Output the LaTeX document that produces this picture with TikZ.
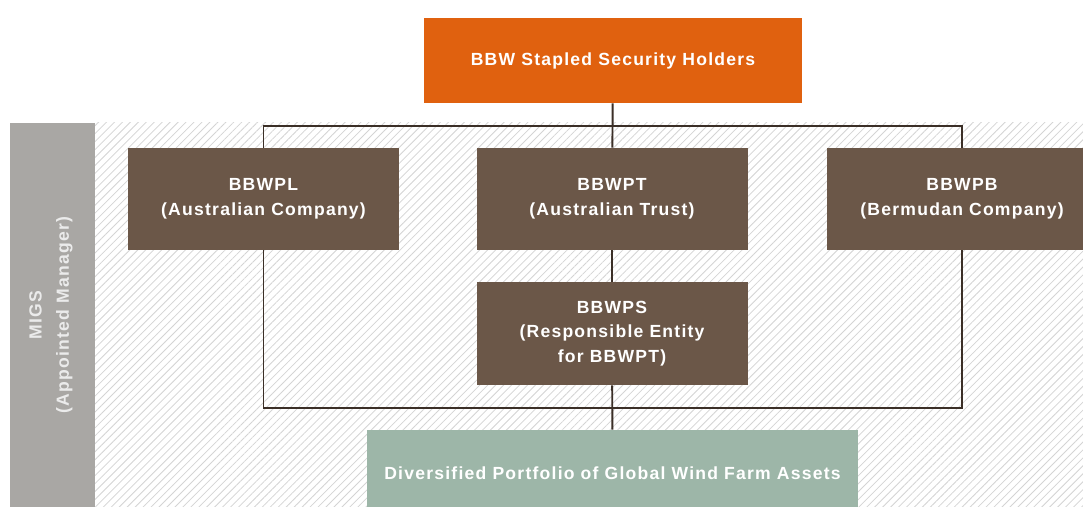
\documentclass[tikz,border=0pt]{standalone}
\usepackage{fontspec}
\setsansfont{Liberation Sans}[LetterSpace=7]
\usetikzlibrary{patterns.meta}

\definecolor{stapleorange}{HTML}{E0610F}
\definecolor{entitybrown}{HTML}{6B5748}
\definecolor{assetgreen}{HTML}{9DB6A8}
\definecolor{bandgray}{HTML}{A9A7A4}
\definecolor{linkbrown}{HTML}{3B2F27}

\begin{document}
\begin{tikzpicture}[
    box/.style={minimum width=5.42cm, minimum height=2.04cm, inner sep=0pt,
                fill=entitybrown, text=white, align=center,
                font=\sffamily\bfseries\fontsize{10}{14}\selectfont},
    link/.style={draw=linkbrown, line width=1.1pt},
    label/.style={text=white!92!black, align=center,
                  font=\sffamily\bfseries\fontsize{10}{15.5}\selectfont}
  ]

  \useasboundingbox (0,0) rectangle (21.66,10.14);
  \clip (0,0) rectangle (21.66,10.14);

  % Hatched backdrop and manager band
  \fill[white] (0,0) rectangle (21.66,10.14);
  \fill[pattern={Lines[angle=45, distance=3.2pt, line width=0.45pt]},
        pattern color=black!17] (1.9,0) rectangle (21.66,7.68);
  \fill[bandgray] (0.2,0) rectangle (1.9,7.68);
  \node[label, rotate=90] (migs) at (1.02,3.84) {MIGS\\(Appointed Manager)};

  % Holders on top
  \node[box, fill=stapleorange, minimum width=7.56cm, minimum height=1.7cm]
    (holders) at (12.26,8.93) {BBW Stapled Security Holders};

  % Stapled entities
  \node[box] (bbwpl) at (5.27,6.16) {BBWPL\\(Australian Company)};
  \node[box] (bbwpt) at (12.24,6.16) {BBWPT\\(Australian Trust)};
  \node[box] (bbwpb) at (19.24,6.16) {BBWPB\\(Bermudan Company)};
  \node[box, minimum height=2.06cm] (bbwps) at (12.24,3.47)
    {BBWPS\\(Responsible Entity\\for BBWPT)};

  % Assets at the bottom
  \node[box, fill=assetgreen, minimum width=9.82cm, minimum height=1.72cm]
    (assets) at (12.25,0.68) {Diversified Portfolio of Global Wind Farm Assets};

  \coordinate (split) at (12.24,7.62);
  \coordinate (merge) at (12.24,1.98);

  \draw[link] (holders) -- (bbwpt);
  \draw[link] (bbwpl.north) |- (split) -| (bbwpb.north);
  \draw[link] (bbwpt) -- (bbwps);
  \draw[link] (bbwpl.south) |- (merge) -| (bbwpb.south);
  \draw[link] (bbwps) -- (assets);

\end{tikzpicture}
\end{document}
